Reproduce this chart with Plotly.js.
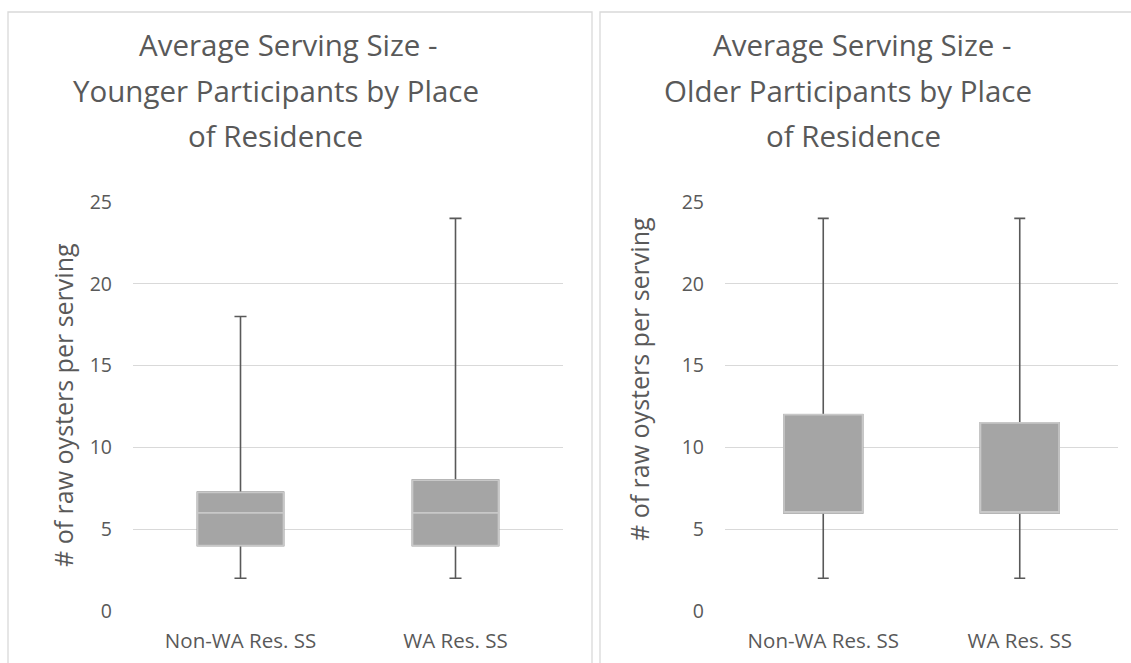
<!DOCTYPE html>
<html>
<head>
<meta charset="utf-8">
<script src="https://cdn.plot.ly/plotly-3.0.1.min.js"></script>
<style>html,body{margin:0;padding:0;background:#fff;}#chart{width:1131px;height:663px;}</style>
</head>
<body>
<div id="chart"></div>
<script>
// ---- data ----
var categories = ["Non-WA Res. SS", "WA Res. SS"];
var youngMin = [2, 2];
var youngQ1 = [4, 4];
var youngMedian = [6, 6];
var youngQ3 = [7.25, 8];
var youngMax = [18, 24];
var oldMin = [2, 2];
var oldQ1 = [6, 6];
var oldMedian = [6, 6];
var oldQ3 = [12, 11.5];
var oldMax = [24, 24];
var yTicks = [0, 5, 10, 15, 20, 25];
var titleYoung = ["Average Serving Size -", "Younger Participants by Place", "of Residence"];
var titleOld = ["Average Serving Size -", "Older Participants by Place", "of Residence"];
var yTitle = "# of raw oysters per serving";

// ---- geometry helpers (pixel -> paper) ----
var PL = 133, PR = 1118, PT = 202, PB = 611;
function px(x) { return (x - PL) / (PR - PL); }
function py(y) { return (PB - y) / (PB - PT); }

var FILL = "#A5A5A5", WHISK = "#595959", EDGE = "#C8C8C8", TXT = "#595959", GRID = "#D9D9D9";
var FONT = "Open Sans, sans-serif";

function boxPair(xa, ya, q1, med, q3, lo, hi) {
  var a = {
    type: "box", x: categories, q1: q1, median: med, q3: q3,
    lowerfence: lo, upperfence: hi, xaxis: xa, yaxis: ya,
    fillcolor: FILL, line: {color: WHISK, width: 1.6}, width: 0.4,
    whiskerwidth: 0.14, boxpoints: false, showlegend: false, hoverinfo: "skip"
  };
  var b = {
    type: "box", x: categories, q1: q1, median: med, q3: q3,
    lowerfence: q1, upperfence: q3, xaxis: xa, yaxis: ya,
    fillcolor: FILL, line: {color: EDGE, width: 1.7}, width: 0.4,
    whiskerwidth: 0, boxpoints: false, showlegend: false, hoverinfo: "skip"
  };
  return [a, b];
}

var data = [].concat(
  boxPair("x", "y", youngQ1, youngMedian, youngQ3, youngMin, youngMax),
  boxPair("x2", "y2", oldQ1, oldMedian, oldQ3, oldMin, oldMax)
);

function xax(dom) {
  return {
    domain: dom, type: "category", range: [-0.5, 1.5], autorange: false,
    showgrid: false, zeroline: false, showline: false,
    ticks: "", tickfont: {family: FONT, size: 20.5, color: TXT}, ticklabelstandoff: 15,
    fixedrange: true
  };
}
function yax(anchor) {
  return {
    anchor: anchor, range: [0, 25], autorange: false, tickvals: yTicks, ticktext: yTicks.map(String),
    showgrid: true, gridcolor: GRID, gridwidth: 1.3, zeroline: false, showline: false,
    ticks: "", tickfont: {family: FONT, size: 19.5, color: TXT}, ticklabelstandoff: 20,
    fixedrange: true
  };
}

var annotations = [];
var yl = [45, 90, 135];
var cxYoung = [288, 276, 275];
var cxOld = [862, 848, 853];
for (var i = 0; i < 3; i++) {
  annotations.push({xref: "paper", yref: "paper", x: px(cxYoung[i]), y: py(yl[i]), xanchor: "center", yanchor: "middle",
    text: titleYoung[i], showarrow: false, font: {family: FONT, size: 29.5, color: TXT}});
  annotations.push({xref: "paper", yref: "paper", x: px(cxOld[i]), y: py(yl[i]), xanchor: "center", yanchor: "middle",
    text: titleOld[i], showarrow: false, font: {family: FONT, size: 29.5, color: TXT}});
}
annotations.push({xref: "paper", yref: "paper", x: px(63), y: py(405), xanchor: "center", yanchor: "middle",
  text: yTitle, textangle: -90, showarrow: false, font: {family: FONT, size: 25, color: TXT}});
annotations.push({xref: "paper", yref: "paper", x: px(639), y: py(379), xanchor: "center", yanchor: "middle",
  text: yTitle, textangle: -90, showarrow: false, font: {family: FONT, size: 25, color: TXT}});

var shapes = [
  {type: "rect", xref: "paper", yref: "paper", x0: px(8), x1: px(592), y0: py(690), y1: py(12),
    line: {color: "#D9D9D9", width: 1.3}, fillcolor: "rgba(0,0,0,0)", layer: "below"},
  {type: "rect", xref: "paper", yref: "paper", x0: px(600), x1: px(1150), y0: py(690), y1: py(12),
    line: {color: "#D9D9D9", width: 1.3}, fillcolor: "rgba(0,0,0,0)", layer: "below"}
];

var layout = {
  width: 1131, height: 663,
  margin: {l: PL, r: 1131 - PR, t: PT, b: 663 - PB, pad: 0},
  paper_bgcolor: "#ffffff", plot_bgcolor: "#ffffff",
  boxmode: "overlay", showlegend: false,
  xaxis: xax([0, px(563)]),
  xaxis2: xax([px(725), 1]),
  yaxis: yax("x"),
  yaxis2: yax("x2"),
  annotations: annotations,
  shapes: shapes,
  font: {family: FONT, color: TXT}
};
layout.xaxis2.anchor = "y2";
layout.xaxis.anchor = "y";

Plotly.newPlot("chart", data, layout, {displayModeBar: false, staticPlot: true});
</script>
</body>
</html>
